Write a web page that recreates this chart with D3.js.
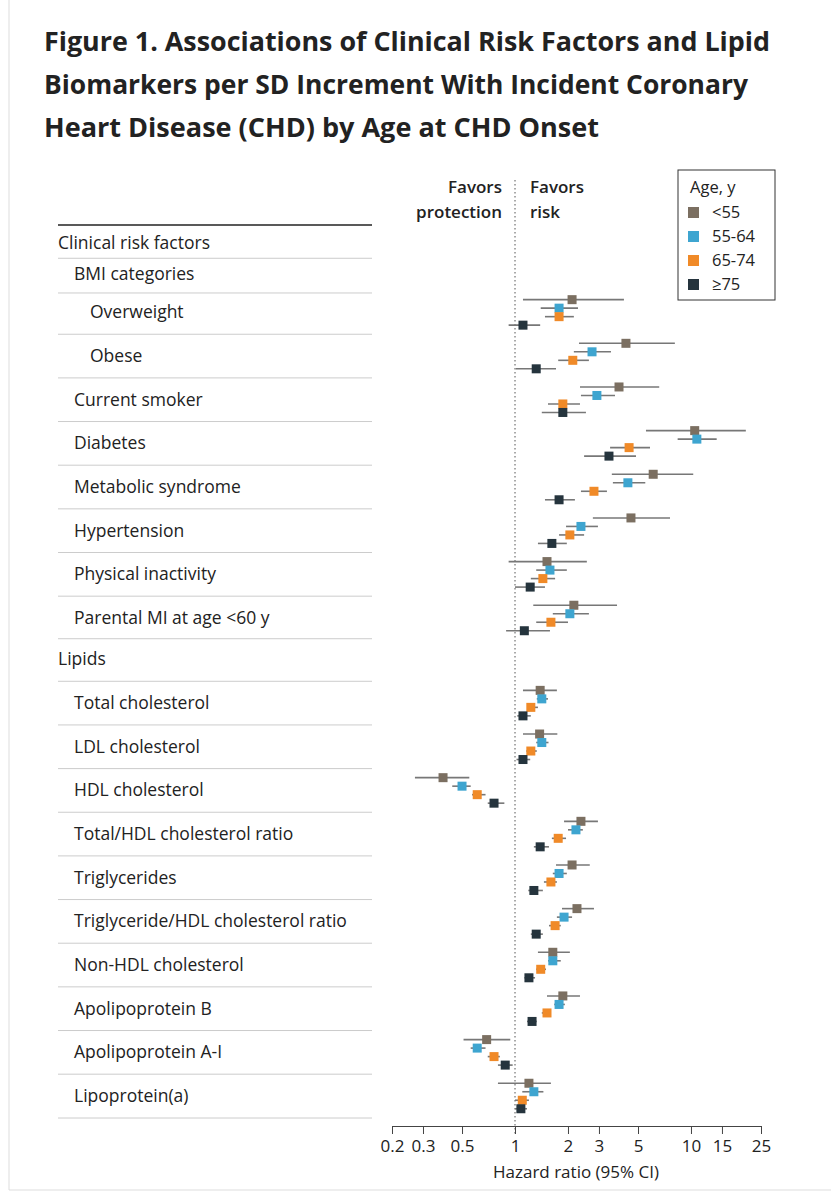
<!DOCTYPE html>
<html><head><meta charset="utf-8">
<script src="https://cdn.jsdelivr.net/npm/d3@7"></script>
<style>body{margin:0;background:#fff}text{font-family:"Open Sans","Noto Sans",sans-serif}</style>
</head><body><svg id="c" width="831" height="1200"></svg>
<script>
const titleLines = ["Figure 1.  Associations of Clinical Risk Factors and Lipid","Biomarkers per SD Increment With Incident Coronary","Heart Disease (CHD) by Age at CHD Onset"];
const ageGroups = ["<55","55-64","65-74","≥75"];
const groupColors = ["#7b6f61","#3ea5d0","#f08a28","#25343d"];
const rowLabels = ["Clinical risk factors","BMI categories","Overweight","Obese","Current smoker","Diabetes","Metabolic syndrome","Hypertension","Physical inactivity","Parental MI at age <60 y","Lipids","Total cholesterol","LDL cholesterol","HDL cholesterol","Total/HDL cholesterol ratio","Triglycerides","Triglyceride/HDL cholesterol ratio","Non-HDL cholesterol","Apolipoprotein B","Apolipoprotein A-I","Lipoprotein(a)"];
const rowIndent = [0,1,2,2,1,1,1,1,1,1,0,1,1,1,1,1,1,1,1,1,1];
// relative row spacing (1 = a full data row)
const rowGap = [0,0.7,0.89,1,1,1,1,1,1,1,0.95,1,1,1,1,1,1,1,1,1,1];
const hr = [
 null,null,
 [[2.11,1.11,4.16],[1.78,1.40,2.28],[1.78,1.48,2.16],[1.11,0.92,1.39]],
 [[4.27,2.31,8.1],[2.74,2.16,3.51],[2.13,1.76,2.63],[1.32,1.01,1.71]],
 [[3.9,2.34,6.6],[2.92,2.37,3.7],[1.87,1.54,2.34],[1.87,1.42,2.53]],
 [[10.5,5.55,20.5],[10.8,8.4,14],[4.45,3.47,5.85],[3.42,2.47,4.87]],
 [[6.1,3.55,10.3],[4.38,3.6,5.5],[2.81,2.37,3.33],[1.78,1.48,2.19]],
 [[4.56,2.77,7.6],[2.37,1.95,2.96],[2.05,1.78,2.47],[1.62,1.35,1.97]],
 [[1.52,0.92,2.56],[1.58,1.32,1.97],[1.44,1.23,1.69],[1.22,1.0,1.48]],
 [[2.16,1.27,3.8],[2.05,1.64,2.63],[1.6,1.32,2.0],[1.13,0.89,1.58]],
 null,
 [[1.39,1.11,1.73],[1.42,1.33,1.54],[1.23,1.17,1.35],[1.11,1.03,1.23]],
 [[1.38,1.11,1.74],[1.42,1.32,1.55],[1.23,1.16,1.33],[1.11,1.02,1.22]],
 [[0.39,0.27,0.55],[0.50,0.44,0.56],[0.61,0.57,0.68],[0.76,0.70,0.87]],
 [[2.37,1.9,2.96],[2.22,2.0,2.43],[1.76,1.62,1.95],[1.39,1.28,1.56]],
 [[2.11,1.71,2.66],[1.78,1.64,1.97],[1.6,1.46,1.73],[1.28,1.19,1.44]],
 [[2.25,1.85,2.81],[1.9,1.73,2.11],[1.69,1.56,1.82],[1.32,1.23,1.44]],
 [[1.64,1.35,2.05],[1.64,1.54,1.82],[1.4,1.32,1.5],[1.2,1.13,1.3]],
 [[1.87,1.52,2.34],[1.78,1.67,1.92],[1.52,1.42,1.6],[1.25,1.17,1.33]],
 [[0.69,0.51,0.94],[0.61,0.56,0.68],[0.76,0.70,0.82],[0.88,0.80,0.97]],
 [[1.2,0.8,1.6],[1.28,1.1,1.45],[1.1,1.0,1.2],[1.08,1.0,1.17]]
];
const tickValues = [0.2,0.3,0.5,1,2,3,5,10,15,25];
const tickLabels = ["0.2","0.3","0.5","1","2","3","5","10","15","25"];

const svg = d3.select("#c");
svg.append("line").attr("x1",9).attr("x2",9).attr("y1",0).attr("y2",1190).attr("stroke","#ddd");
svg.append("line").attr("x1",9).attr("x2",831).attr("y1",1190).attr("y2",1190).attr("stroke","#ddd");
svg.selectAll(".title").data(titleLines).join("text")
 .attr("x",44).attr("y",(d,i)=>51+i*43).attr("font-size",27).attr("font-weight",700)
 .attr("fill","#222").attr("textLength",(d,i)=>[726,704,555][i]).attr("lengthAdjust","spacingAndGlyphs").text(d=>d);

const x = d3.scaleLog().domain([0.2,25]).range([392,761]);
const cum = d3.cumsum(rowGap);
const yU = d3.scaleLinear().domain([0,cum[cum.length-1]]).range([243,1096]);
const y = i => yU(cum[i]);
const sub = d3.scalePoint().domain(ageGroups).range([-12.75,12.75]);

svg.append("line").attr("x1",58).attr("x2",372).attr("y1",225).attr("y2",225).attr("stroke","#222").attr("stroke-width",1.5);
rowLabels.forEach((l,i)=>{
  const yy = i<rowLabels.length-1 ? (y(i)+y(i+1))/2 : y(i)+22;
  svg.append("line").attr("x1",58).attr("x2",372).attr("y1",yy).attr("y2",yy).attr("stroke","#ccc");
});
svg.selectAll(".lab").data(rowLabels).join("text")
 .attr("x",(d,i)=>[58,74,90][rowIndent[i]]).attr("y",(d,i)=>y(i)+6)
 .attr("font-size",17.5).attr("fill","#222").text(d=>d);

svg.append("line").attr("x1",x(1)).attr("x2",x(1)).attr("y1",180).attr("y2",1135)
 .attr("stroke","#555").attr("stroke-dasharray","1.5,2.5");
const fav = [["Favors","protection"],["Favors","risk"]];
fav.forEach((f,k)=>f.forEach((t,j)=>svg.append("text").attr("x",k?530:502).attr("y",193+j*25)
 .attr("text-anchor",k?"start":"end").attr("font-size",17).attr("font-weight",600).attr("fill","#222").text(t)));
hr.forEach((r,i)=>{
  if(!r) return;
  r.forEach((v,g)=>{
    const yy = y(i)+sub(ageGroups[g]);
    svg.append("line").attr("x1",x(v[1])).attr("x2",x(v[2])).attr("y1",yy).attr("y2",yy).attr("stroke","#777").attr("stroke-width",1.6);
    svg.append("rect").attr("x",x(v[0])-4.5).attr("y",yy-4.5).attr("width",9).attr("height",9).attr("fill",groupColors[g]);
  });
});
const ax = svg.append("g").attr("transform","translate(0,1126)")
 .call(d3.axisBottom(x).tickValues(tickValues).tickFormat((d,i)=>tickLabels[i]).tickSize(8).tickSizeOuter(0));
ax.select(".domain").attr("stroke","#444");
ax.selectAll(".tick line").attr("stroke","#444");
ax.selectAll("text").attr("font-size",17).attr("fill","#222").attr("dy","0.9em").style("font-family","Open Sans");
svg.append("text").attr("x",576).attr("y",1178).attr("text-anchor","middle").attr("font-size",17).attr("fill","#222").text("Hazard ratio (95% CI)");
svg.append("rect").attr("x",678).attr("y",170).attr("width",97).attr("height",130).attr("fill","#fff").attr("stroke","#333");
svg.append("text").attr("x",690).attr("y",193).attr("font-size",16.5).attr("fill","#222").text("Age, y");
ageGroups.forEach((a,g)=>{
  svg.append("rect").attr("x",688).attr("y",207+g*24).attr("width",11).attr("height",11).attr("fill",groupColors[g]);
  svg.append("text").attr("x",712).attr("y",218+g*24).attr("font-size",16.5).attr("fill","#222").text(a);
});
</script></body></html>
